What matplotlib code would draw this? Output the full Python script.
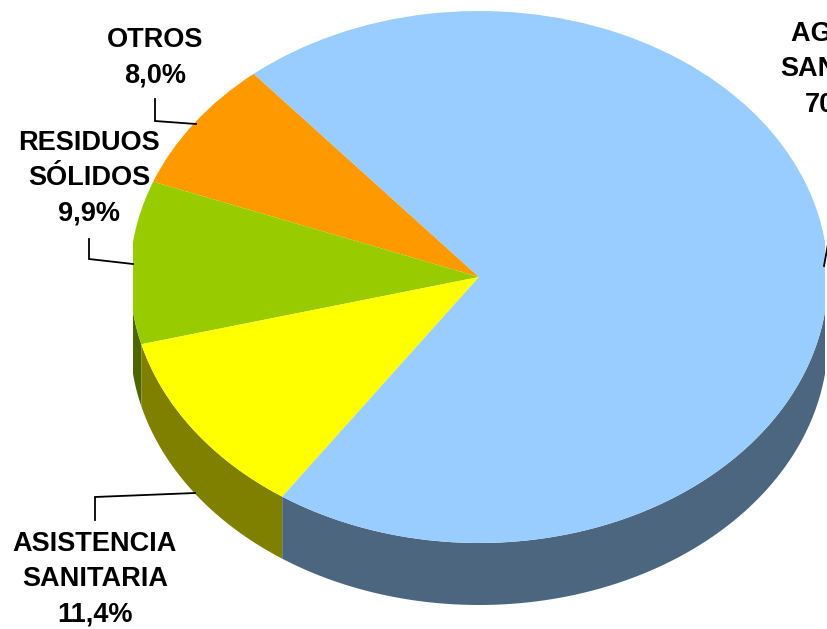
import numpy as np
import matplotlib
matplotlib.use("Agg")
import matplotlib.pyplot as plt
from matplotlib.patches import Rectangle

plt.rcParams["font.family"] = ["Liberation Sans", "DejaVu Sans"]

# values, in drawing order (counter-clockwise)
categories = ["OTROS", "RESIDUOS\nSÓLIDOS", "ASISTENCIA\nSANITARIA", "AGUA Y\nSANEAM."]
values = [8.0, 9.9, 11.4, 70.7]
top_colors = ["#FF9900", "#99CC00", "#FFFF00", "#99CCFF"]
side_colors = ["#805000", "#4D6600", "#808000", "#4D6680"]

# pixel geometry of the fake 3D pie
W, H = 828, 629
cx, cy = 479, 277
rx, ry = 349, 266
depth = 62
start_angle = 130.2
clip_left, clip_right = 133, 825

label_pos = [(155, 58), (89, 178), (95, 579), (843, 69)]
leaders = [
    [(155, 99), (155, 121), (196, 124)],
    [(89, 239), (89, 259), (133, 264)],
    [(95, 520), (95, 497), (195, 493)],
    [(824, 266), (828, 244)],
]

fig = plt.figure(figsize=(W / 100, H / 100), dpi=100)

# full-figure axes, unit circle stretched into the ellipse
ax = fig.add_axes([0, 0, 1, 1])
wedges, _ = ax.pie(values, colors=top_colors, startangle=start_angle,
                   counterclock=True, wedgeprops={"linewidth": 0}, normalize=True)
ax.set_aspect("auto")
ax.set_xlim(-cx / rx, (W - cx) / rx)
ax.set_ylim((cy - H) / ry, cy / ry)

clip = Rectangle(((clip_left - cx) / rx, (cy - H) / ry), (clip_right - clip_left) / rx,
                 H / ry, transform=ax.transData)
for w in wedges:
    w.set_zorder(3)
    w.set_clip_on(True)
    w.set_clip_path(clip)

# side wall, only the part of each slice on the lower half of the ellipse
d = depth / ry
edges = start_angle + np.cumsum([0] + values) * 3.6
for i in range(len(values)):
    for offset in (0, 360):
        a0 = max(edges[i] - offset, 180)
        a1 = min(edges[i + 1] - offset, 360)
        if a1 <= a0:
            continue
        t = np.radians(np.linspace(a0, a1, 120))
        xs = np.r_[np.cos(t), np.cos(t[::-1])]
        ys = np.r_[np.sin(t), np.sin(t[::-1]) - d]
        poly = ax.fill(xs, ys, color=side_colors[i], lw=0, zorder=2)[0]
        poly.set_clip_path(clip)

# overlay in pixel coordinates for the labels and leader lines
ov = fig.add_axes([0, 0, 1, 1], facecolor="none")
ov.set_xlim(0, W)
ov.set_ylim(H, 0)
ov.axis("off")

for line in leaders:
    ov.plot([p[0] for p in line], [p[1] for p in line], color="black", lw=1.3,
            solid_joinstyle="miter")

for name, val, (x, y) in zip(categories, values, label_pos):
    txt = name + "\n" + f"{val:.1f}%".replace(".", ",")
    ov.text(x, y, txt, ha="center", va="center", fontsize=19.5, fontweight="bold",
            linespacing=1.46, color="black")

fig.savefig("out.png", dpi=100, facecolor="white")
